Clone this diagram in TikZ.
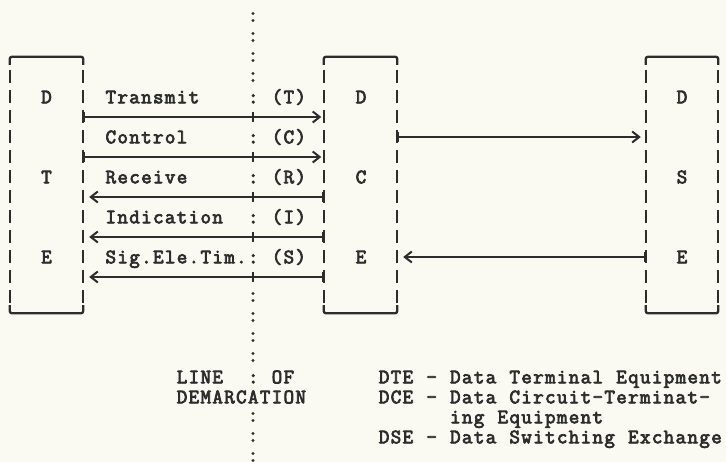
\documentclass[tikz,border=0pt]{standalone}
\usepackage{fontspec}
\newfontfamily\tw{Latin Modern Mono}[FakeBold=3.6]
\usetikzlibrary{arrows.meta}
\definecolor{ink}{RGB}{45,45,45}
\definecolor{paper}{RGB}{250,250,243}
\newlength{\typitch}
\setlength{\typitch}{11.87pt}
\ExplSyntaxOn
\NewDocumentCommand \tyline { m }
 {
  \str_map_inline:nn { #1 }
   {
    \str_if_eq:nnTF { ##1 } { _ } { \hspace*{\typitch} } { \makebox[\typitch][c]{##1} }
   }
 }
\ExplSyntaxOff
\begin{document}
\begin{tikzpicture}[x=1pt,y=-1pt,
  txt/.style={inner sep=0pt, anchor=base west, font={\tw\fontsize{20.5pt}{20pt}\selectfont}, text=ink},
  let/.style={inner sep=0pt, anchor=base, font={\tw\fontsize{20.5pt}{20pt}\selectfont}, text=ink},
  unit/.style={draw=none, minimum height=256pt, inner sep=0pt},
  edge/.style={draw=ink, line width=2.3pt, rounded corners=2pt},
  side/.style={draw=ink, line width=2.3pt, dash pattern=on 13pt off 7pt},
  sig/.style={draw=ink, line width=2pt},
  fwd/.style={sig, {Bar[width=10pt,line width=2pt]}-{Straight Barb[length=7pt,width=11pt,line width=2pt]}},
  dotl/.style={draw=ink, line width=3.4pt, line cap=round, dash pattern=on 0pt off 7pt on 0pt off 13pt},
]
\useasboundingbox (0,0) rectangle (726,462);
\fill[paper] (0,0) rectangle (726,462);

% units
\node[unit, minimum width=73pt] (dte) at (46.5,185) {};
\node[unit, minimum width=73pt] (dce) at (360.5,185) {};
\node[unit, minimum width=72pt] (dse) at (682,185) {};

\foreach \b in {dte,dce,dse}{
  \draw[edge] ([yshift=-8pt]\b.north west) -- (\b.north west) -- (\b.north east) -- ([yshift=-8pt]\b.north east);
  \draw[edge] ([yshift=8pt]\b.south west) -- (\b.south west) -- (\b.south east) -- ([yshift=8pt]\b.south east);
  \draw[side] ([yshift=-13pt]\b.north west) -- ([yshift=9pt]\b.south west);
  \draw[side] ([yshift=-13pt]\b.north east) -- ([yshift=9pt]\b.south east);
}

% letters in the units
\node[let] (dte1) at (46.5,103.3) {D};
\node[let] (dte2) at (46.5,183.3) {T};
\node[let] (dte3) at (46.5,263.3) {E};
\node[let] (dce1) at (361,103.3) {D};
\node[let] (dce2) at (361,183.3) {C};
\node[let] (dce3) at (361,263.3) {E};
\node[let] (dse1) at (682,103.3) {D};
\node[let] (dse2) at (682,183.3) {S};
\node[let] (dse3) at (682,263.3) {E};

% line of demarcation
\coordinate (dl) at (253,0);
\draw[dotl] (253,13.5) -- (253,81);
\draw[dotl] (253,293.5) -- (253,361);
\draw[dotl] (253,413.5) -- (253,461);

% interchange circuit labels
\node[txt] (tT) at (104.7,103.3) {\tyline{Transmit____:_(T)}};
\node[txt] (tC) at (104.7,143.3) {\tyline{Control_____:_(C)}};
\node[txt] (tR) at (104.7,183.3) {\tyline{Receive_____:_(R)}};
\node[txt] (tI) at (104.7,223.3) {\tyline{Indication__:_(I)}};
\node[txt] (tS) at (104.7,263.3) {\tyline{Sig.Ele.Tim.:_(S)}};

% arrow rows
\coordinate (rT) at (0,117);
\coordinate (rC) at (0,157);
\coordinate (rR) at (0,197);
\coordinate (rI) at (0,237);
\coordinate (rS) at (0,277);
\coordinate (rX) at (0,137);
\coordinate (rY) at (0,257);

\draw[fwd, shorten >=2.5pt] (dte.east |- rT) -- (dce.west |- rT);
\draw[fwd, shorten >=2.5pt] (dte.east |- rC) -- (dce.west |- rC);
\draw[fwd, shorten >=6pt] (dce.west |- rR) -- (dte.east |- rR);
\draw[fwd, shorten >=6pt] (dce.west |- rI) -- (dte.east |- rI);
\draw[fwd, shorten >=6pt] (dce.west |- rS) -- (dte.east |- rS);
\draw[fwd, shorten >=5pt] (dce.east |- rX) -- (dse.west |- rX);
\draw[fwd, shorten >=6pt] (dse.west |- rY) -- (dce.east |- rY);

% crossing ticks on the demarcation line
\foreach \r in {rT,rC,rR,rI,rS}{
  \draw[sig] ([yshift=5pt]dl |- \r) -- ([yshift=-5pt]dl |- \r);
}

% demarcation caption
\node[txt] (ln1) at (175.9,383.3) {\tyline{LINE__:_OF}};
\node[txt] (ln2) at (175.9,403.3) {\tyline{DEMARCATION}};

% legend
\node[txt] (lg1) at (378,383.3) {\tyline{DTE_-_Data_Terminal_Equipment}};
\node[txt] (lg2) at (378,403.3) {\tyline{DCE_-_Data_Circuit-Terminat-}};
\node[txt] (lg3) at (449.2,423.3) {\tyline{ing_Equipment}};
\node[txt] (lg4) at (378,443.3) {\tyline{DSE_-_Data_Switching_Exchange}};
\end{tikzpicture}
\end{document}
